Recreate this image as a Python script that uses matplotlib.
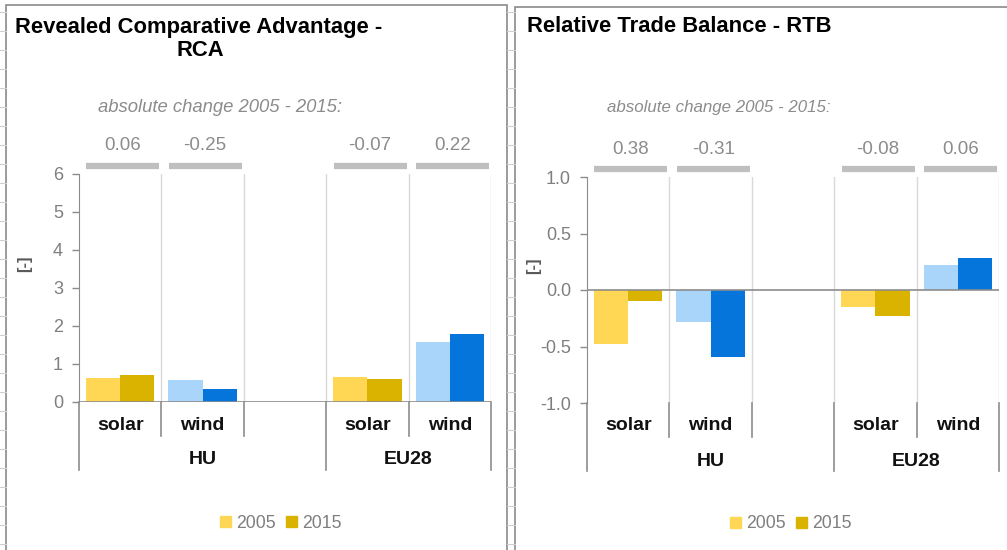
"""RCA and RTB of solar / wind trade, HU vs EU28, 2005 and 2015."""
import matplotlib.pyplot as plt
from matplotlib.patches import Rectangle
from matplotlib.lines import Line2D
from matplotlib.transforms import blended_transform_factory
import matplotlib
matplotlib.rcParams['font.family'] = ['Liberation Sans', 'DejaVu Sans']

W, H = 1007, 550
GREY_TXT = '#7f7f7f'
AX_COL = '#8c8c8c'
COL = {'solar': ('#ffd754', '#d9b300'), 'wind': ('#a9d5fb', '#0575db')}

# --- data ---
groups = ['HU', 'EU28']
techs = ['solar', 'wind']
years = ['2005', '2015']
rca_2005 = [0.64, 0.58, 0.67, 1.57]
rca_2015 = [0.70, 0.33, 0.60, 1.79]
rtb_2005 = [-0.48, -0.28, -0.15, 0.22]
rtb_2015 = [-0.10, -0.59, -0.23, 0.28]
rca_ticks = [0, 1, 2, 3, 4, 5, 6]
rtb_ticks = [-1.0, -0.5, 0.0, 0.5, 1.0]

# slot index of each bar pair (slot 2 is left empty between the groups)
slots = [0, 1, 3, 4]

fig = plt.figure(figsize=(W / 100, H / 100), dpi=100)


def fx(px):
    return px / W


def fy(py):
    return 1 - py / H


# worksheet background: panel frames and cell lines
for x0, y0, w in [(6, 5, 501), (515, 7, 520)]:
    fig.add_artist(Rectangle((fx(x0), fy(560)), fx(w), fy(y0) - fy(560),
                             transform=fig.transFigure, fill=False, ec='#8a8a8a', lw=1.2))
for yy in range(12, 550, 19):
    fig.add_artist(Line2D([fx(507), fx(515)], [fy(yy), fy(yy)], transform=fig.transFigure,
                          color='#cfcfcf', lw=0.8))
    fig.add_artist(Line2D([fx(0), fx(6)], [fy(yy), fy(yy)], transform=fig.transFigure,
                          color='#cfcfcf', lw=0.8))


def panel(left, right, top, bottom, v05, v15, ticks, fmt, title_lines, title_xy,
          note_xy, note_fs, ylab_xy, leg_x, cat_y, grp_y):
    ax = fig.add_axes([fx(left), fy(bottom), fx(right - left), fy(top) - fy(bottom)])
    ax.set_xlim(0, 5)
    ax.set_ylim(ticks[0], ticks[-1])
    for s in ['top', 'right', 'bottom']:
        ax.spines[s].set_visible(False)
    ax.spines['left'].set_color(AX_COL)
    ax.set_yticks(ticks)
    ax.set_yticklabels([fmt.format(t) for t in ticks])
    ax.tick_params(axis='y', colors=AX_COL, labelcolor=GREY_TXT, labelsize=13,
                   length=5, width=1, pad=6.5)
    ax.set_xticks([])
    ax.patch.set_alpha(0)

    # light separators between categories
    for s in range(1, 6):
        ax.axvline(s, color='#d9d9d9', lw=1.0, zorder=0)
    ax.axhline(0, color=AX_COL, lw=1.2, zorder=3)

    bw = 0.415
    for i, s in enumerate(slots):
        c05, c15 = COL[techs[i % 2]]
        ax.bar(s + 0.5 - bw / 2, v05[i], bw, color=c05, zorder=2)
        ax.bar(s + 0.5 + bw / 2, v15[i], bw, color=c15, zorder=2)

    # category axis below the plot area
    h = bottom - top
    tr = blended_transform_factory(ax.transData, ax.transAxes)
    for s in range(0, 6):
        depth = 68 if s in (0, 3, 5) else 34
        ax.plot([s, s], [0, -depth / h], color=AX_COL, lw=1.2, transform=tr, clip_on=False)
    for i, s in enumerate(slots):
        ax.text(s + 0.5, -(cat_y - bottom) / h, techs[i % 2], transform=tr, ha='center',
                va='center', fontsize=14, weight='bold', color='#111')
    ax.text(1.5, -(grp_y - bottom) / h, groups[0], transform=tr, ha='center', va='center',
            fontsize=14, weight='bold', color='#111')
    ax.text(4.0, -(grp_y - bottom) / h, groups[1], transform=tr, ha='center', va='center',
            fontsize=14, weight='bold', color='#111')

    # change 2005 -> 2015 above each pair
    for i, s in enumerate(slots):
        d = v15[i] - v05[i]
        ax.plot([s + 0.09, s + 0.975], [1 + 8 / h] * 2, color='#bfbfbf', lw=4.5,
                solid_capstyle='butt', transform=tr, clip_on=False)
        ax.text(s + 0.53, 1 + 28 / h, f"{d:.2f}", transform=tr, ha='center', va='center',
                fontsize=13.5, color='#8c8c8c')

    for k, line in enumerate(title_lines):
        x, y, ha = title_xy[k]
        fig.text(fx(x), fy(y), line, ha=ha, va='center', fontsize=15.8, weight='bold',
                 color='#000')
    fig.text(fx(note_xy[0]), fy(note_xy[1]), 'absolute change 2005 - 2015:', ha='left',
             va='center', fontsize=note_fs, style='italic', color='#8c8c8c')
    fig.text(fx(ylab_xy[0]), fy(ylab_xy[1]), '[-]', rotation=90, ha='center',
             va='center', fontsize=12, weight='bold', color='#595959')

    handles = [Rectangle((0, 0), 1, 1, color=COL['solar'][0]),
               Rectangle((0, 0), 1, 1, color=COL['solar'][1])]
    fig.legend(handles, years, loc='center', bbox_to_anchor=(fx(leg_x), fy(cat_y + 98)),
               ncol=2, frameon=False, fontsize=12.7, handlelength=0.6, handleheight=0.6,
               handletextpad=0.3, columnspacing=0.6, labelcolor=GREY_TXT)
    return ax


panel(79, 491, 174, 402, rca_2005, rca_2015, rca_ticks, '{:d}',
      ['Revealed Comparative Advantage -', 'RCA'],
      [(15, 27, 'left'), (200, 50, 'center')], (98, 107), 13.3, (25, 264), 281, 425, 459)
panel(587, 999, 177, 403, rtb_2005, rtb_2015, rtb_ticks, '{:.1f}',
      ['Relative Trade Balance - RTB'], [(527, 27, 'left')], (607, 108), 12.2, (534, 266),
      791, 426, 461)

plt.savefig('out.png', dpi=100)
